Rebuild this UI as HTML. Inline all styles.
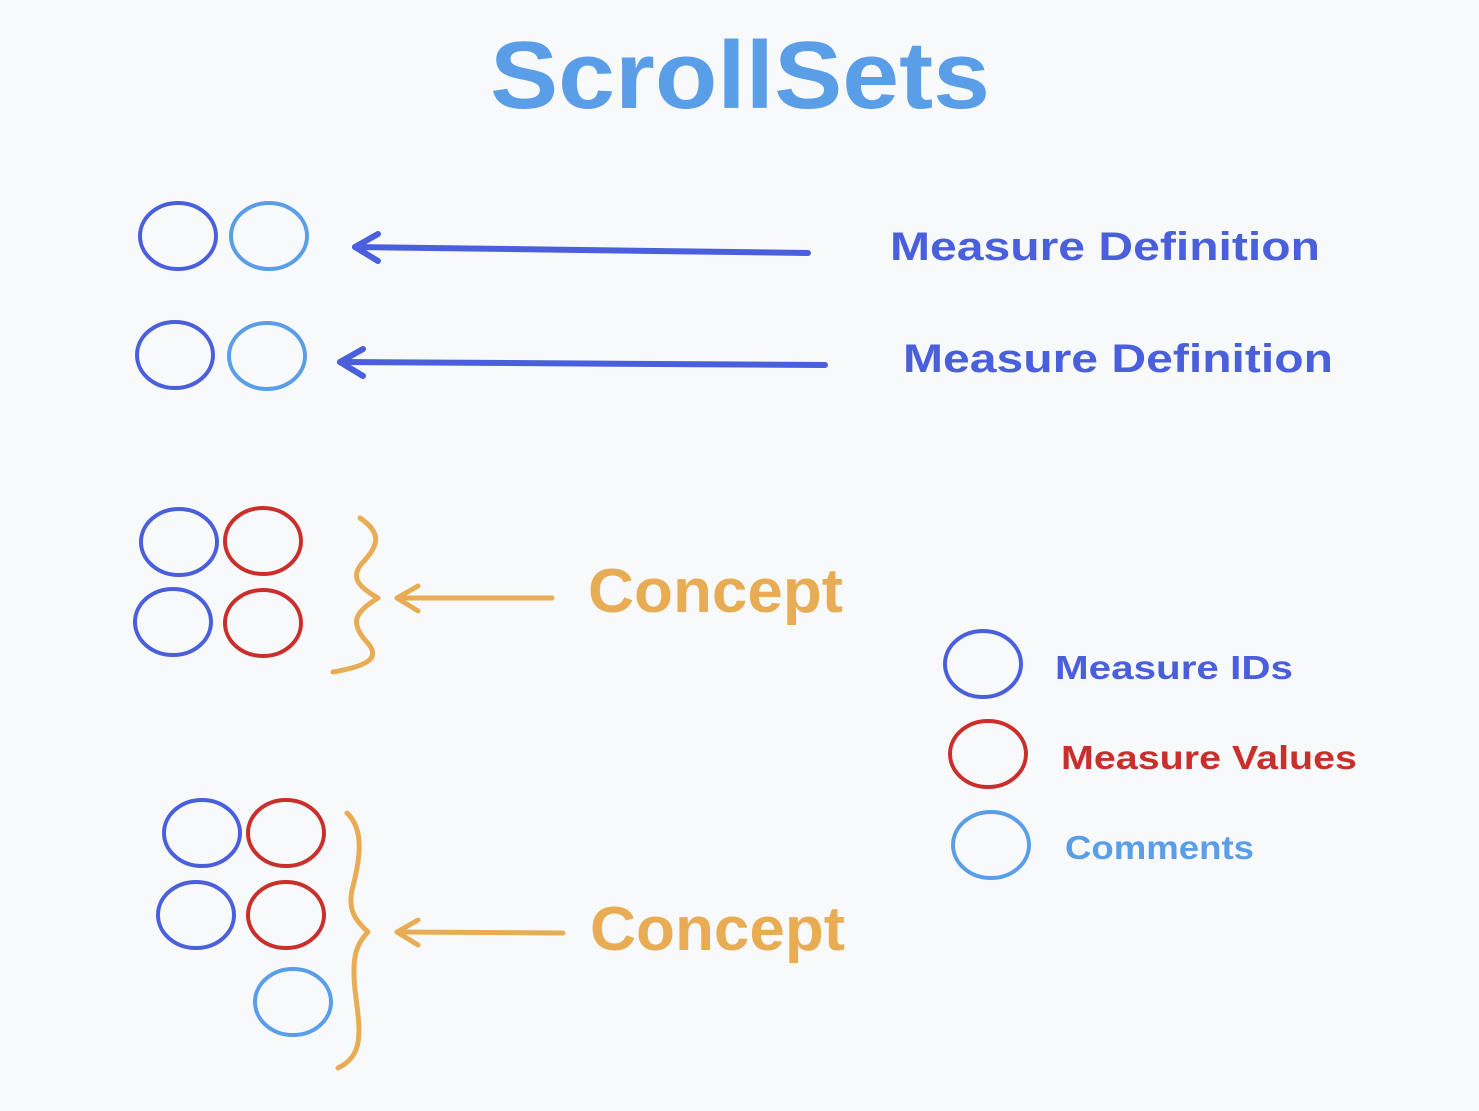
<!DOCTYPE html>
<html><head><meta charset="utf-8"><style>
html,body{margin:0;padding:0;background:#f8f9fb;}
svg{display:block;}
text{font-family:"Liberation Sans",sans-serif;font-weight:bold;}
</style></head><body>
<svg width="1479" height="1111" viewBox="0 0 1479 1111" xmlns="http://www.w3.org/2000/svg">
<rect width="1479" height="1111" fill="#f8f9fb"/>
<text x="490" y="108" font-size="96" fill="#5b9ee8" textLength="500" lengthAdjust="spacingAndGlyphs">ScrollSets</text>
<g fill="none" stroke-width="4" stroke-linecap="round" stroke-linejoin="round">
<g stroke="#4a5fdc">
<ellipse cx="178" cy="236" rx="38" ry="33"/>
<ellipse cx="175" cy="355" rx="38" ry="33"/>
<ellipse cx="179" cy="542" rx="38" ry="33"/>
<ellipse cx="173" cy="622" rx="38" ry="33"/>
<ellipse cx="202" cy="833" rx="38" ry="33"/>
<ellipse cx="196" cy="915" rx="38" ry="33"/>
<ellipse cx="983" cy="664" rx="38" ry="33"/>
</g>
<g stroke="#5b9ee8">
<ellipse cx="269" cy="236" rx="38" ry="33"/>
<ellipse cx="267" cy="356" rx="38" ry="33"/>
<ellipse cx="293" cy="1002" rx="38" ry="33"/>
<ellipse cx="991" cy="845" rx="38" ry="33"/>
</g>
<g stroke="#c9302c">
<ellipse cx="263" cy="541" rx="38" ry="33"/>
<ellipse cx="263" cy="623" rx="38" ry="33"/>
<ellipse cx="286" cy="833" rx="38" ry="33"/>
<ellipse cx="286" cy="915" rx="38" ry="33"/>
<ellipse cx="988" cy="754" rx="38" ry="33"/>
</g>
<g stroke="#4a5fdc" stroke-width="6">
<path d="M808 253 L355 247"/>
<path d="M378 234 L355 247 L378 261"/>
<path d="M825 365 L340 362"/>
<path d="M363 349 L340 362 L363 376"/>
</g>
<g stroke="#e8ac55" stroke-width="5">
<path d="M552 598 L397 598"/>
<path d="M418 586 L397 598 L418 611"/>
<path d="M563 933 L397 932"/>
<path d="M418 920 L397 932 L418 945"/>
<path d="M360 518 C385 535 375 548 365 560 C350 575 355 585 378 598 C355 612 350 622 365 640 C380 655 375 665 333 672"/>
<path d="M347 813 C365 830 360 860 352 890 C348 910 355 920 368 932 C355 945 352 960 355 990 C360 1030 365 1055 338 1068"/>
</g>
</g>
<g font-size="40" fill="#4a5fdc">
<text x="890" y="260" textLength="430" lengthAdjust="spacingAndGlyphs">Measure Definition</text>
<text x="903" y="372" textLength="430" lengthAdjust="spacingAndGlyphs">Measure Definition</text>
</g>
<g font-size="62" fill="#e8ac55">
<text x="588" y="612" textLength="255" lengthAdjust="spacingAndGlyphs">Concept</text>
<text x="590" y="950" textLength="255" lengthAdjust="spacingAndGlyphs">Concept</text>
</g>
<text x="1055" y="679" font-size="33" fill="#4a5fdc" textLength="238" lengthAdjust="spacingAndGlyphs">Measure IDs</text>
<text x="1061" y="769" font-size="33" fill="#c9302c" textLength="296" lengthAdjust="spacingAndGlyphs">Measure Values</text>
<text x="1065" y="859" font-size="33" fill="#5b9ee8" textLength="189" lengthAdjust="spacingAndGlyphs">Comments</text>
</svg>
</body></html>
